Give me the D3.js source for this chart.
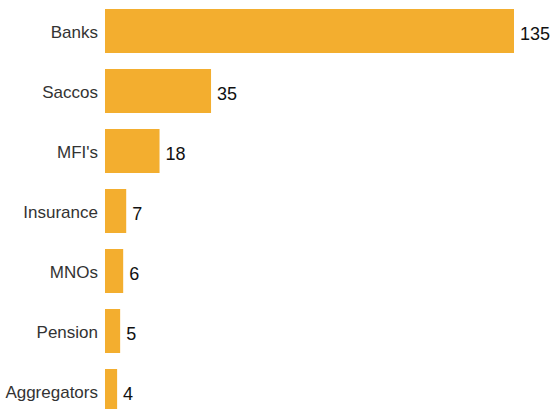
<!DOCTYPE html>
<html>
<head>
<meta charset="utf-8">
<script src="https://cdn.jsdelivr.net/npm/d3@7"></script>
<style>
  html, body { margin: 0; padding: 0; background: #fff; overflow: hidden; }
  svg { display: block; }
  .cat { font: 17px "Liberation Sans", Arial, sans-serif; fill: #333; }
  .val { font: 18px "Liberation Sans", Arial, sans-serif; fill: #111; }
</style>
</head>
<body>
<div id="chart"></div>
<script>
var categories = ['Banks', 'Saccos', "MFI's", 'Insurance', 'MNOs', 'Pension', 'Aggregators'];
var values = [135, 35, 18, 7, 6, 5, 4];

var width = 550;
var height = 409;

var data = categories.map(function (c, i) {
  return {name: c, value: values[i]};
});

var x = d3.scaleLinear().domain([0, 135]).range([105, 514]);
var y = d3.scaleBand()
    .domain(categories)
    .range([1, 421])
    .paddingInner(16 / 60)
    .paddingOuter(8 / 60);

var svg = d3.select('#chart').append('svg')
    .attr('width', width)
    .attr('height', height);

// bars
svg.selectAll('.bar')
  .data(data)
  .enter().append('rect')
  .attr('class', 'bar')
  .attr('x', x(0))
  .attr('y', function (d) { return y(d.name); })
  .attr('width', function (d) { return x(d.value) - x(0); })
  .attr('height', y.bandwidth())
  .attr('fill', '#f3ae2f');

// category labels
svg.selectAll('.cat')
  .data(data)
  .enter().append('text')
  .attr('class', 'cat')
  .attr('x', x(0) - 7)
  .attr('y', function (d) { return y(d.name) + y.bandwidth() / 2; })
  .attr('dy', '0.42em')
  .attr('text-anchor', 'end')
  .text(function (d) { return d.name; });

// value labels
svg.selectAll('.val')
  .data(data)
  .enter().append('text')
  .attr('class', 'val')
  .attr('x', function (d) { return x(d.value) + 6; })
  .attr('y', function (d) { return y(d.name) + y.bandwidth() / 2; })
  .attr('dy', '0.48em')
  .text(function (d) { return d.value; });
</script>
</body>
</html>
